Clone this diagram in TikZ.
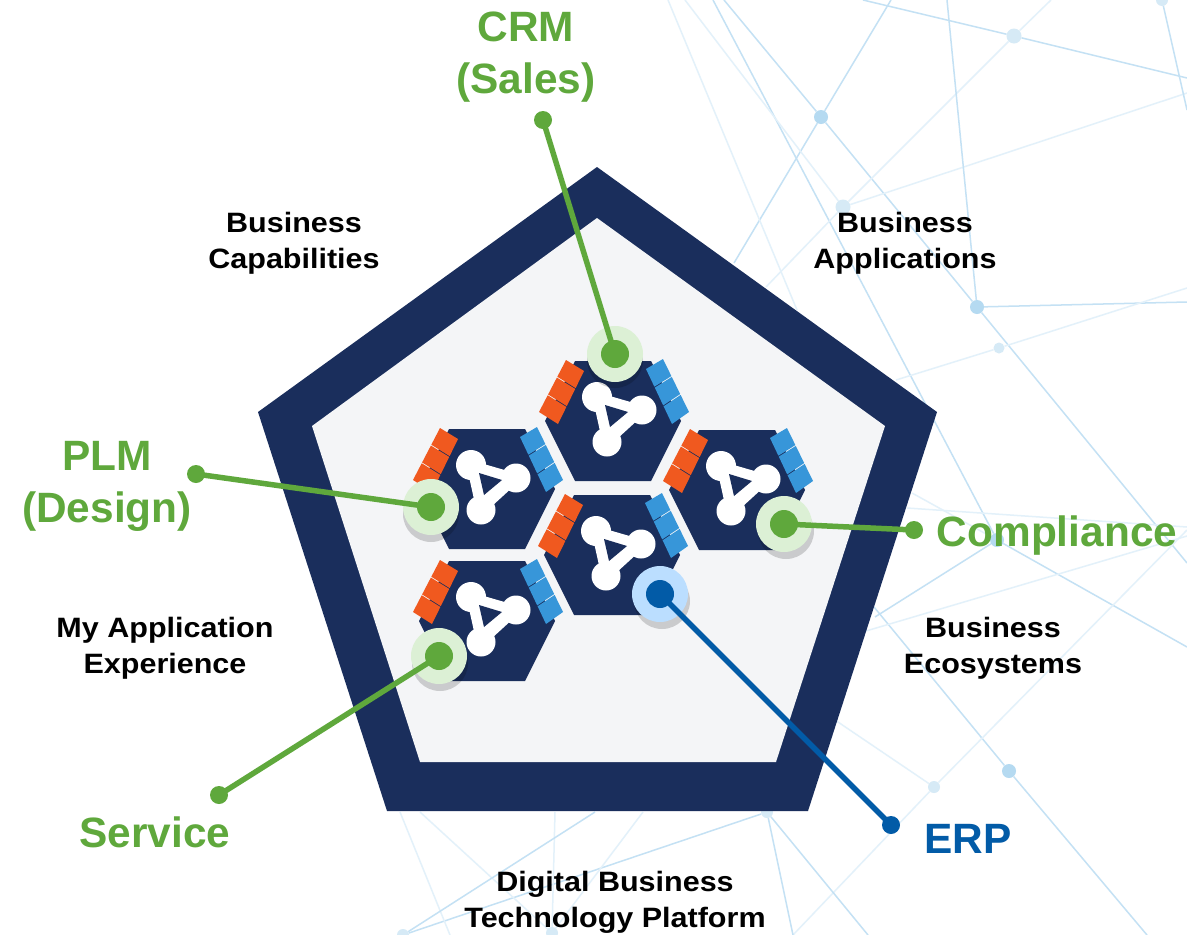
\documentclass[tikz,border=0pt]{standalone}
\usepackage{fontspec}
\setmainfont{Liberation Sans}
\newfontfamily\capfont[FakeStretch=1.09]{Liberation Sans}
\usetikzlibrary{calc}
\definecolor{navy}{HTML}{1A2E5C}
\definecolor{panel}{HTML}{F4F5F7}
\definecolor{orangeb}{HTML}{F0591F}
\definecolor{blueb}{HTML}{3796D9}
\definecolor{pgreen}{HTML}{5FA83C}
\definecolor{hgreen}{HTML}{DCF0D5}
\definecolor{pblue}{HTML}{025BA7}
\definecolor{hblue}{HTML}{BBDEFF}
\definecolor{netm}{HTML}{C4E1F4}
\definecolor{netl}{HTML}{E3F1FA}
\definecolor{nodem}{HTML}{B5DAF1}
\definecolor{nodel}{HTML}{D6EAF6}
\tikzset{
  x=1pt,y=-1pt,
  netmid/.style={draw=netm,line width=1.5pt},
  netlight/.style={draw=netl,line width=1.5pt},
  netnode/.style={circle,fill=nodem,minimum size=14pt,inner sep=0pt},
  netnodel/.style={circle,fill=nodel,minimum size=15pt,inner sep=0pt},
  caption/.style={align=center,text=black,font=\fontsize{28}{36}\selectfont\capfont\bfseries},
  gcaption/.style={align=center,text=pgreen,font=\fontsize{42.4}{52}\selectfont\bfseries},
  bcaption/.style={align=center,text=pblue,font=\fontsize{42.4}{52}\selectfont\bfseries},
  halo/.style={circle,minimum size=56pt,inner sep=0pt},
  pinshadow/.style={circle,minimum size=56pt,inner sep=0pt,fill=black,opacity=.17},
  pindot/.style={circle,minimum size=28pt,inner sep=0pt},
  enddot/.style={circle,minimum size=18pt,inner sep=0pt},
  gline/.style={draw=pgreen,line width=5.5pt},
  bline/.style={draw=pblue,line width=5.5pt},
  hexunit/.pic={
    \fill[navy] (-68,0) -- (-38,-60) -- (38,-60) -- (68,0) -- (38,60) -- (-38,60) -- cycle;
    \foreach \a/\b in {0/.322,.338/.662,.678/1}{
      \fill[orangeb] ($(-47,-61)!\a!(-74,-9)$) -- ($(-47,-61)!\b!(-74,-9)$) -- ($(-29,-50)!\b!(-55,3)$) -- ($(-29,-50)!\a!(-55,3)$) -- cycle;
      \fill[blueb] ($(50,-62)!\a!(76,-9)$) -- ($(50,-62)!\b!(76,-9)$) -- ($(33,-52)!\b!(59,3)$) -- ($(33,-52)!\a!(59,3)$) -- cycle;
    }
    \fill[white,draw=white,line width=9pt,line join=round] (-16,-24) -- (29,-11) -- (-6,21) -- cycle;
    \fill[white] (-16,-24) circle[radius=15] (29,-11) circle[radius=14.5] (-6,21) circle[radius=14.5];
    \fill[navy] (-8,-16) -- (15,-9) -- (-3,6) -- cycle;
  }
}
\begin{document}
\begin{tikzpicture}
\useasboundingbox (0,0) rectangle (1187,935);
\fill[white] (0,0) rectangle (1187,935);
% background network
\node[netnode]  (n1) at (821,117) {};
\node[netnodel] (n2) at (1014,36) {};
\node[netnodel] (n3) at (843,207) {};
\node[netnode]  (n4) at (977,307) {};
\node[netnodel,minimum size=11pt] (n5) at (999,348) {};
\node[netnode]  (n6) at (1009,771) {};
\node[netnodel,minimum size=12pt] (n7) at (934,787) {};
\node[netnodel,minimum size=12pt] (n8) at (767,812) {};
\node[netnodel,minimum size=12pt] (n9) at (1162,0) {};
\node[netnodel,minimum size=12pt] (n10) at (552,933) {};
\node[netnodel,minimum size=12pt] (n11) at (403,935) {};
\node[netnode] (n12) at (997,540) {};
\coordinate (a1) at (724,0);
\coordinate (a3) at (1187,563);
\coordinate (b1) at (713,0);
\coordinate (c1) at (891,0); \coordinate (c2) at (734,263);
\coordinate (d1) at (685,0); \coordinate (d2) at (1187,93); \coordinate (d3) at (1051,0); \coordinate (d4) at (766,287);
\coordinate (e1) at (668,0); \coordinate (e2) at (797,310);
\coordinate (f1) at (947,0);
\coordinate (g1) at (863,0); \coordinate (g2) at (1187,78);
\coordinate (h2) at (1187,302);
\coordinate (i1) at (896,380); \coordinate (i2) at (1187,288);
\coordinate (j2) at (1187,110);
\coordinate (k1) at (874,607); \coordinate (k2) at (1147,935);
\coordinate (l1) at (835,720); \coordinate (l2) at (1187,530); \coordinate (l3) at (793,935);
\coordinate (m1) at (866,631); \coordinate (m2) at (1187,536);
\coordinate (p2) at (1187,647); \coordinate (p3) at (912,493); \coordinate (p4) at (875,617);
\coordinate (q1) at (907,508); \coordinate (q2) at (1187,527);
\coordinate (r1) at (868,935); \coordinate (r2) at (793,935);
\coordinate (s1) at (400,812); \coordinate (s2) at (450,935);
\coordinate (t1) at (420,812);
\coordinate (u1) at (555,812);
\coordinate (v1) at (595,812);
\coordinate (w1) at (643,812);
\path[netmid] (a1) -- (n1) -- (n4) -- (a3);
\path[netmid] (b1) -- (n12) -- (p2);
\path[netmid] (c1) -- (n1) -- (c2);
\path[netlight] (d1) -- (n3) -- (d2);
\path[netlight] (d3) -- (n2) -- (n3) -- (d4);
\path[netlight] (e1) -- (e2);
\path[netmid] (f1) -- (n4) -- (h2);
\path[netmid] (g1) -- (n2) -- (g2);
\path[netlight] (i1) -- (n5) -- (i2);
\path[netmid] (n9) -- (j2);
\path[netmid] (k1) -- (n6) -- (k2);
\path[netlight] (l1) -- (n7) -- (l2);
\path[netlight] (n7) -- (l3);
\path[netlight] (m1) -- (m2);
\path[netlight] (p3) -- (n12);
\path[netmid] (n12) -- (p4);
\path[netlight] (q1) -- (q2);
\path[netmid] (n8) -- (n11);
\path[netmid] (n8) -- (r2);
\path[netmid] (n8) -- (r1);
\path[netlight] (s1) -- (s2);
\path[netlight] (t1) -- (n10);
\path[netlight] (u1) -- (n10);
\path[netmid] (v1) -- (n11);
\path[netlight] (w1) -- (n10);
% pentagon
\fill[navy] (597,167) -- (937,412) -- (808,811) -- (387,811) -- (258,412) -- cycle;
\fill[panel] (597,218) -- (885,426) -- (776,762) -- (420,762) -- (312,426) -- cycle;
% hexagons
\pic (hexTop) at (613,421) {hexunit};
\pic (hexLeft) at (487,489) {hexunit};
\pic (hexRight) at (737,490) {hexunit};
\pic (hexMid) at (612,555) {hexunit};
\pic (hexLow) at (487,621) {hexunit};
% captions
\node[caption] (capA) at (294,243) {Business\\Capabilities};
\node[caption] (capB) at (905,243) {Business\\Applications};
\node[caption] (capC) at (165,648) {My Application\\Experience};
\node[caption] (capD) at (993,648) {Business\\Ecosystems};
\node[caption] (capE) at (615,902) {Digital Business\\Technology Platform};
\node[gcaption] (lblCrm) at (526,57) {CRM\\(Sales)};
\node[gcaption] (lblPlm) at (107,486) {PLM\\(Design)};
\node[gcaption] (lblCom) at (1057,536) {Compliance};
\node[gcaption] (lblSer) at (155,832) {Service};
\node[bcaption] (lblErp) at (968,839) {ERP};
% pins
\node[pinshadow] (sCrm) at (615,360) {};
\node[pinshadow] (sPlm) at (431,514) {};
\node[pinshadow] (sCom) at (786,531) {};
\node[pinshadow] (sSer) at (440,663) {};
\node[pinshadow] (sErp) at (662,601) {};
\node[halo,fill=hgreen] (hCrm) at (615,354) {};
\node[halo,fill=hgreen] (hPlm) at (431,507) {};
\node[halo,fill=hgreen] (hCom) at (784,524) {};
\node[halo,fill=hgreen] (hSer) at (439,656) {};
\node[halo,fill=hblue] (hErp) at (660,594) {};
\node[pindot,fill=pgreen] (pCrm) at (615,354) {};
\node[pindot,fill=pgreen] (pPlm) at (431,507) {};
\node[pindot,fill=pgreen] (pCom) at (784,524) {};
\node[pindot,fill=pgreen] (pSer) at (439,656) {};
\node[pindot,fill=pblue] (pErp) at (660,594) {};
\node[enddot,fill=pgreen] (eCrm) at (543,120) {};
\node[enddot,fill=pgreen] (ePlm) at (196,474) {};
\node[enddot,fill=pgreen] (eCom) at (914,530) {};
\node[enddot,fill=pgreen] (eSer) at (219,795) {};
\node[enddot,fill=pblue] (eErp) at (891,825) {};
\draw[gline] (eCrm.center) -- (pCrm.center);
\draw[gline] (ePlm.center) -- (pPlm.center);
\draw[gline] (eCom.center) -- (pCom.center);
\draw[gline] (eSer.center) -- (pSer.center);
\draw[bline] (eErp.center) -- (pErp.center);
\end{tikzpicture}
\end{document}
